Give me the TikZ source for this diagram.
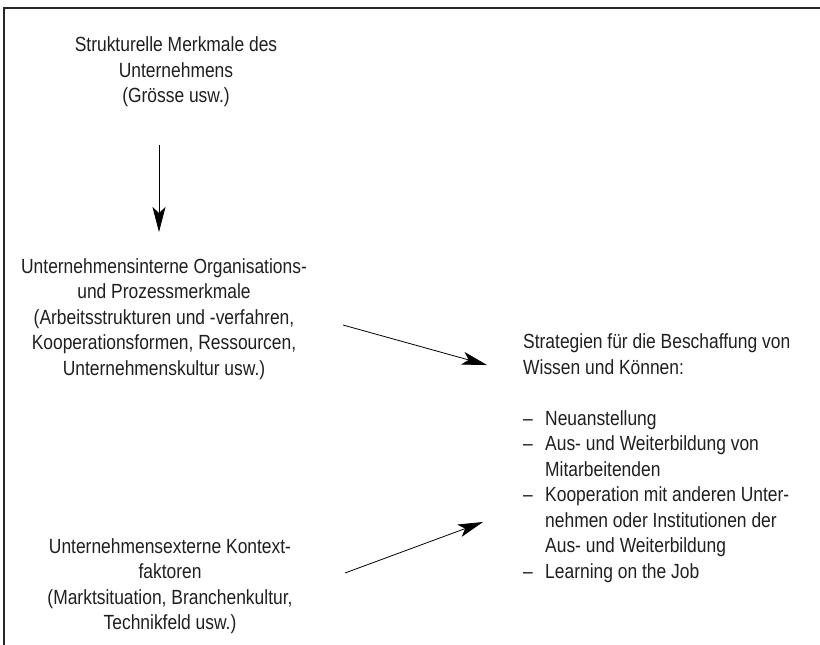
\documentclass[tikz,border=0pt]{standalone}
\usepackage{fontspec}
\setmainfont[FakeStretch=0.85]{Liberation Sans}
\usetikzlibrary{arrows.meta}
\tikzset{
  txt/.style={inner sep=0pt, font=\fontsize{20.5}{25.5}\selectfont, text=black!88},
  arr/.style={line width=0.8pt, -{Stealth[length=25pt,width=13pt,inset=6pt]}},
  frame/.style={line width=1.4pt, black!85}
}
\newcommand{\dashitem}{\makebox[22pt][l]{--}}
\newcommand{\indentitem}{\hspace*{22pt}}
\begin{document}
\begin{tikzpicture}[x=1pt,y=-1pt]
\useasboundingbox (0,0) rectangle (820,645);
\draw[frame] (4,645) -- (4,8) -- (820,8);
\node[txt, align=center] (struct) at (176,72) {Strukturelle Merkmale des\\Unternehmens\\(Grösse usw.)};
\node[txt, align=center] (intern) at (164,319) {Unternehmensinterne Organisations-\\und Prozessmerkmale\\(Arbeitsstrukturen und -verfahren,\\Kooperationsformen, Ressourcen,\\Unternehmenskultur usw.)};
\node[txt, align=center] (extern) at (170,586) {Unternehmensexterne Kontext-\\faktoren\\(Marktsituation, Branchenkultur,\\Technikfeld usw.)};
\node[txt, align=left, anchor=west] (strat) at (523,458) {Strategien für die Beschaffung von\\Wissen und Können:\\[25.5pt]
\dashitem Neuanstellung\\
\dashitem Aus- und Weiterbildung von\\
\indentitem Mitarbeitenden\\
\dashitem Kooperation mit anderen Unter-\\
\indentitem nehmen oder Institutionen der\\
\indentitem Aus- und Weiterbildung\\
\dashitem Learning on the Job};
\coordinate (a1s) at (159,145);
\coordinate (a1e) at (159,232);
\coordinate (a2s) at (343,325);
\coordinate (a2e) at (487,365);
\coordinate (a3s) at (345,573);
\coordinate (a3e) at (483,522);
\draw[arr] (a1s) -- (a1e);
\draw[arr] (a2s) -- (a2e);
\draw[arr] (a3s) -- (a3e);
\end{tikzpicture}
\end{document}
